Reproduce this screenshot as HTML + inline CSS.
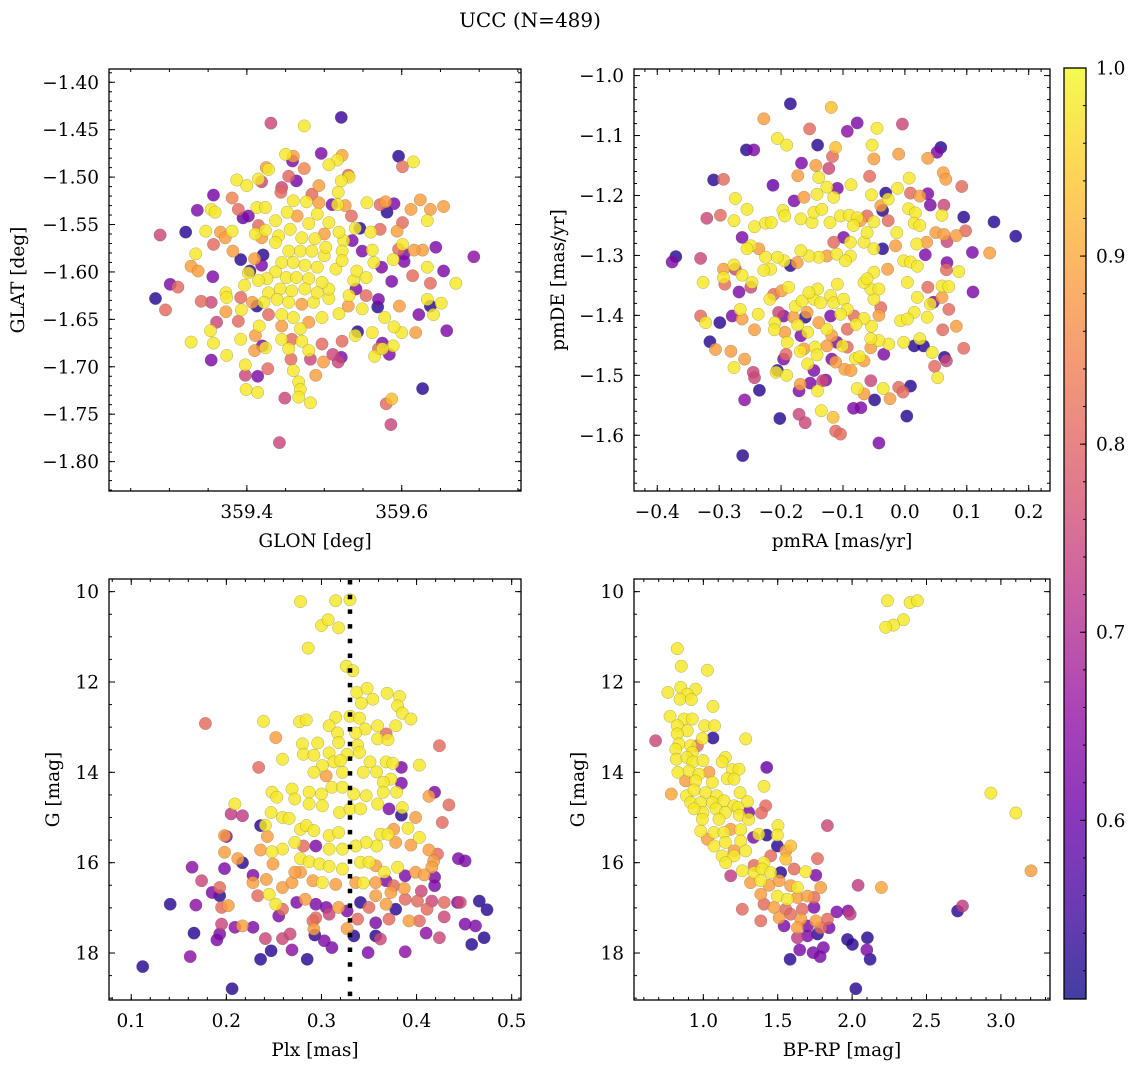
<!DOCTYPE html>
<html><head><meta charset="utf-8"><style>
html,body{margin:0;padding:0;background:#fff;}
svg{display:block;font-family:"DejaVu Serif","Liberation Serif",serif;}
</style></head><body>
<svg id="fig" width="1136" height="1067" viewBox="0 0 1136 1067" xmlns="http://www.w3.org/2000/svg">
<defs>
<linearGradient id="cbgrad" x1="0" y1="1" x2="0" y2="0">
<stop offset="0" stop-color="#0d0887"/><stop offset="0.1" stop-color="#41049d"/><stop offset="0.2" stop-color="#6a00a8"/><stop offset="0.3" stop-color="#8f0da4"/><stop offset="0.4" stop-color="#b12a90"/><stop offset="0.5" stop-color="#cc4778"/><stop offset="0.6" stop-color="#e16462"/><stop offset="0.7" stop-color="#f2844b"/><stop offset="0.8" stop-color="#fca636"/><stop offset="0.9" stop-color="#fcce25"/><stop offset="1" stop-color="#f0f921"/>
</linearGradient>
</defs>
<text x="530" y="27" font-size="20" text-anchor="middle">UCC (N=489)</text>
</svg>
<script>
// ---- data: [x, y, membership probability] ----
const tlPoints=[[359.431,-1.443,0.75],[359.474,-1.446,0.98],[359.522,-1.437,0.55],[359.496,-1.475,0.63],[359.450,-1.476,0.98],[359.459,-1.483,0.63],[359.460,-1.478,0.89],[359.523,-1.477,0.90],[359.517,-1.482,0.98],[359.506,-1.487,0.98],[359.596,-1.478,0.53],[359.615,-1.484,0.98],[359.601,-1.489,0.82],[359.428,-1.492,0.98],[359.425,-1.490,0.89],[359.474,-1.491,0.85],[359.454,-1.499,0.80],[359.464,-1.504,0.62],[359.387,-1.503,0.98],[359.400,-1.509,0.98],[359.415,-1.502,0.98],[359.419,-1.505,0.75],[359.531,-1.498,0.81],[359.532,-1.500,0.98],[359.522,-1.504,0.98],[359.493,-1.509,0.89],[359.445,-1.511,0.75],[359.444,-1.516,0.81],[359.518,-1.516,0.98],[359.357,-1.519,0.62],[359.381,-1.522,0.85],[359.336,-1.535,0.63],[359.354,-1.534,0.98],[359.359,-1.537,0.98],[359.389,-1.534,0.81],[359.395,-1.543,0.60],[359.402,-1.541,0.63],[359.413,-1.532,0.98],[359.424,-1.532,0.98],[359.460,-1.525,0.98],[359.477,-1.526,0.98],[359.493,-1.527,0.89],[359.484,-1.518,0.81],[359.510,-1.529,0.63],[359.517,-1.529,0.98],[359.527,-1.530,0.89],[359.535,-1.541,0.81],[359.555,-1.527,0.98],[359.572,-1.529,0.81],[359.579,-1.526,0.89],[359.590,-1.528,0.63],[359.581,-1.537,0.53],[359.612,-1.534,0.89],[359.624,-1.524,0.89],[359.637,-1.534,0.89],[359.633,-1.546,0.98],[359.654,-1.531,0.89],[359.601,-1.548,0.81],[359.594,-1.557,0.89],[359.288,-1.561,0.75],[359.321,-1.558,0.53],[359.347,-1.557,0.98],[359.366,-1.558,0.89],[359.372,-1.564,0.89],[359.381,-1.557,0.98],[359.357,-1.571,0.81],[359.382,-1.578,0.89],[359.334,-1.581,0.98],[359.328,-1.594,0.89],[359.337,-1.599,0.89],[359.356,-1.605,0.63],[359.392,-1.587,0.53],[359.410,-1.586,0.89],[359.421,-1.582,0.53],[359.419,-1.593,0.63],[359.404,-1.599,0.55],[359.402,-1.601,0.98],[359.301,-1.613,0.63],[359.311,-1.616,0.81],[359.282,-1.628,0.53],[359.295,-1.640,0.81],[359.341,-1.631,0.81],[359.354,-1.632,0.75],[359.373,-1.622,0.98],[359.374,-1.627,0.98],[359.392,-1.627,0.81],[359.373,-1.642,0.89],[359.397,-1.614,0.98],[359.407,-1.632,0.89],[359.413,-1.636,0.53],[359.393,-1.640,0.98],[359.389,-1.652,0.81],[359.361,-1.653,0.75],[359.353,-1.662,0.98],[359.328,-1.674,0.98],[359.357,-1.675,0.98],[359.354,-1.693,0.63],[359.374,-1.688,0.98],[359.392,-1.671,0.98],[359.411,-1.667,0.89],[359.416,-1.657,0.98],[359.410,-1.683,0.89],[359.424,-1.680,0.98],[359.420,-1.678,0.63],[359.398,-1.698,0.98],[359.398,-1.709,0.75],[359.414,-1.710,0.63],[359.427,-1.702,0.81],[359.399,-1.724,0.98],[359.414,-1.727,0.98],[359.449,-1.733,0.75],[359.442,-1.780,0.75],[359.460,-1.704,0.98],[359.467,-1.716,0.98],[359.469,-1.724,0.98],[359.467,-1.732,0.98],[359.482,-1.738,0.98],[359.489,-1.709,0.89],[359.457,-1.692,0.81],[359.482,-1.692,0.75],[359.499,-1.695,0.89],[359.518,-1.695,0.75],[359.522,-1.690,0.63],[359.511,-1.687,0.75],[359.497,-1.676,0.81],[359.523,-1.673,0.81],[359.543,-1.663,0.53],[359.540,-1.667,0.98],[359.562,-1.664,0.98],[359.575,-1.675,0.63],[359.584,-1.687,0.63],[359.589,-1.678,0.98],[359.565,-1.689,0.98],[359.575,-1.681,0.98],[359.570,-1.681,0.81],[359.618,-1.664,0.89],[359.600,-1.664,0.98],[359.590,-1.658,0.98],[359.627,-1.723,0.53],[359.587,-1.734,0.93],[359.580,-1.739,0.81],[359.586,-1.761,0.75],[359.622,-1.645,0.63],[359.637,-1.636,0.53],[359.641,-1.645,0.98],[359.651,-1.633,0.98],[359.633,-1.629,0.98],[359.658,-1.662,0.63],[359.597,-1.636,0.89],[359.578,-1.648,0.98],[359.569,-1.637,0.53],[359.570,-1.629,0.63],[359.554,-1.625,0.81],[359.670,-1.612,0.98],[359.654,-1.599,0.63],[359.637,-1.612,0.81],[359.633,-1.595,0.98],[359.614,-1.604,0.81],[359.693,-1.584,0.65],[359.644,-1.574,0.63],[359.627,-1.577,0.89],[359.616,-1.577,0.89],[359.603,-1.581,0.63],[359.603,-1.589,0.63],[359.589,-1.587,0.98],[359.596,-1.576,0.81],[359.601,-1.571,0.98],[359.587,-1.610,0.63],[359.574,-1.595,0.63],[359.564,-1.590,0.98],[359.562,-1.577,0.98],[359.549,-1.578,0.63],[359.546,-1.554,0.53],[359.540,-1.554,0.98],[359.560,-1.558,0.98],[359.572,-1.555,0.81],[359.536,-1.567,0.63],[359.525,-1.567,0.98],[359.519,-1.558,0.98],[359.538,-1.609,0.98],[359.542,-1.599,0.98],[359.554,-1.606,0.98],[359.541,-1.618,0.63],[359.532,-1.625,0.98],[359.549,-1.639,0.98],[359.531,-1.636,0.89],[359.519,-1.644,0.98],[359.497,-1.648,0.98],[359.480,-1.653,0.89],[359.486,-1.632,0.98],[359.506,-1.628,0.98],[359.506,-1.618,0.98],[359.515,-1.597,0.98],[359.500,-1.583,0.98],[359.500,-1.560,0.89],[359.506,-1.548,0.98],[359.480,-1.549,0.98],[359.491,-1.539,0.98],[359.465,-1.541,0.89],[359.452,-1.537,0.98],[359.437,-1.546,0.98],[359.441,-1.562,0.98],[359.456,-1.555,0.98],[359.471,-1.564,0.98],[359.488,-1.565,0.98],[359.454,-1.578,0.98],[359.469,-1.578,0.98],[359.484,-1.578,0.98],[359.445,-1.590,0.98],[359.460,-1.590,0.98],[359.475,-1.593,0.98],[359.491,-1.595,0.98],[359.437,-1.600,0.98],[359.451,-1.606,0.98],[359.464,-1.606,0.98],[359.480,-1.607,0.98],[359.497,-1.611,0.98],[359.426,-1.607,0.98],[359.415,-1.609,0.98],[359.428,-1.622,0.98],[359.443,-1.618,0.98],[359.458,-1.620,0.98],[359.475,-1.618,0.98],[359.491,-1.622,0.98],[359.422,-1.632,0.98],[359.439,-1.629,0.98],[359.454,-1.632,0.98],[359.471,-1.634,0.89],[359.445,-1.645,0.98],[359.428,-1.645,0.81],[359.460,-1.648,0.98],[359.445,-1.657,0.89],[359.469,-1.660,0.98],[359.445,-1.671,0.98],[359.458,-1.671,0.81],[359.471,-1.673,0.98],[359.480,-1.683,0.98],[359.454,-1.681,0.98],[359.437,-1.569,0.98],[359.419,-1.564,0.89],[359.411,-1.560,0.98],[359.424,-1.556,0.98],[359.415,-1.551,0.81],[359.523,-1.578,0.98],[359.523,-1.588,0.98],[359.502,-1.574,0.98]];
const trPoints=[[-0.185,-1.047,0.53],[-0.119,-1.053,0.93],[-0.228,-1.072,0.89],[-0.154,-1.089,0.81],[-0.077,-1.079,0.63],[-0.093,-1.093,0.65],[-0.004,-1.081,0.75],[-0.045,-1.088,0.98],[-0.206,-1.105,0.98],[-0.191,-1.116,0.98],[-0.141,-1.116,0.53],[-0.112,-1.120,0.93],[-0.117,-1.135,0.81],[-0.256,-1.124,0.53],[-0.244,-1.124,0.63],[-0.053,-1.116,0.98],[-0.050,-1.139,0.89],[-0.010,-1.131,0.89],[0.058,-1.120,0.53],[0.052,-1.128,0.63],[0.037,-1.138,0.89],[-0.167,-1.146,0.63],[-0.144,-1.150,0.89],[-0.123,-1.155,0.75],[-0.309,-1.174,0.53],[-0.293,-1.173,0.81],[-0.213,-1.183,0.60],[-0.173,-1.167,0.89],[-0.139,-1.170,0.98],[-0.087,-1.182,0.98],[-0.057,-1.168,0.81],[0.007,-1.171,0.98],[0.062,-1.162,0.89],[0.066,-1.173,0.89],[0.092,-1.185,0.81],[-0.109,-1.188,0.63],[-0.274,-1.205,0.98],[-0.126,-1.186,0.98],[-0.179,-1.209,0.63],[-0.163,-1.203,0.89],[-0.142,-1.198,0.98],[-0.115,-1.203,0.98],[-0.054,-1.199,0.98],[-0.031,-1.196,0.53],[-0.027,-1.206,0.98],[-0.012,-1.188,0.98],[0.009,-1.196,0.81],[0.024,-1.201,0.89],[0.037,-1.197,0.63],[0.041,-1.216,0.63],[0.063,-1.216,0.75],[0.060,-1.233,0.98],[0.095,-1.236,0.53],[0.144,-1.244,0.53],[0.179,-1.268,0.53],[-0.320,-1.238,0.75],[-0.298,-1.233,0.81],[-0.276,-1.242,0.98],[-0.255,-1.223,0.98],[-0.243,-1.252,0.98],[-0.225,-1.246,0.98],[-0.216,-1.245,0.98],[-0.197,-1.225,0.98],[-0.194,-1.234,0.98],[-0.168,-1.239,0.98],[-0.150,-1.245,0.98],[-0.147,-1.228,0.98],[-0.134,-1.223,0.98],[-0.121,-1.245,0.98],[-0.104,-1.234,0.98],[-0.090,-1.233,0.98],[-0.077,-1.237,0.98],[-0.061,-1.234,0.81],[-0.050,-1.244,0.98],[-0.039,-1.217,0.89],[-0.036,-1.225,0.53],[-0.027,-1.242,0.81],[-0.013,-1.262,0.98],[-0.015,-1.284,0.89],[0.006,-1.222,0.98],[0.017,-1.229,0.98],[0.015,-1.246,0.98],[0.024,-1.250,0.98],[0.050,-1.262,0.89],[0.063,-1.265,0.89],[0.083,-1.267,0.89],[0.098,-1.259,0.81],[0.068,-1.277,0.75],[0.109,-1.295,0.63],[0.137,-1.296,0.89],[0.110,-1.361,0.63],[0.033,-1.299,0.63],[0.035,-1.278,0.89],[0.019,-1.281,0.98],[-0.002,-1.309,0.98],[0.009,-1.311,0.98],[0.020,-1.318,0.98],[0.068,-1.312,0.63],[0.067,-1.324,0.81],[0.087,-1.327,0.98],[0.060,-1.351,0.98],[0.071,-1.352,0.98],[0.037,-1.353,0.81],[0.060,-1.370,0.89],[0.046,-1.378,0.63],[0.041,-1.381,0.98],[0.071,-1.390,0.81],[0.083,-1.418,0.89],[0.061,-1.424,0.81],[0.095,-1.455,0.81],[0.036,-1.403,0.98],[0.020,-1.370,0.98],[0.004,-1.345,0.98],[0.015,-1.395,0.98],[-0.007,-1.409,0.98],[0.004,-1.406,0.98],[0.024,-1.439,0.98],[0.030,-1.451,0.53],[0.015,-1.451,0.53],[-0.002,-1.445,0.98],[0.044,-1.462,0.98],[0.064,-1.470,0.53],[0.067,-1.476,0.75],[0.048,-1.485,0.81],[0.053,-1.504,0.98],[-0.026,-1.448,0.98],[-0.042,-1.442,0.98],[-0.055,-1.439,0.98],[-0.034,-1.465,0.63],[-0.055,-1.454,0.89],[-0.054,-1.418,0.98],[-0.066,-1.405,0.98],[-0.042,-1.400,0.89],[-0.039,-1.387,0.81],[-0.050,-1.373,0.98],[-0.055,-1.356,0.98],[-0.066,-1.345,0.98],[-0.042,-1.356,0.98],[-0.028,-1.323,0.89],[-0.050,-1.328,0.98],[-0.061,-1.339,0.98],[-0.036,-1.289,0.53],[-0.050,-1.289,0.98],[-0.066,-1.278,0.98],[-0.061,-1.262,0.98],[-0.083,-1.250,0.98],[-0.072,-1.242,0.89],[-0.099,-1.270,0.63],[-0.088,-1.278,0.98],[-0.115,-1.278,0.81],[-0.110,-1.298,0.98],[-0.088,-1.301,0.98],[-0.096,-1.309,0.98],[-0.126,-1.301,0.89],[-0.139,-1.303,0.98],[-0.155,-1.301,0.98],[-0.168,-1.292,0.98],[-0.174,-1.312,0.89],[-0.185,-1.317,0.53],[-0.195,-1.309,0.98],[-0.206,-1.303,0.98],[-0.217,-1.323,0.98],[-0.228,-1.325,0.98],[-0.225,-1.303,0.98],[-0.236,-1.289,0.89],[-0.249,-1.284,0.98],[-0.255,-1.289,0.98],[-0.263,-1.270,0.63],[-0.276,-1.316,0.98],[-0.293,-1.323,0.89],[-0.293,-1.337,0.98],[-0.291,-1.348,0.81],[-0.330,-1.305,0.75],[-0.326,-1.345,0.98],[-0.370,-1.302,0.53],[-0.376,-1.311,0.63],[-0.274,-1.323,0.75],[-0.263,-1.333,0.98],[-0.247,-1.345,0.98],[-0.249,-1.353,0.75],[-0.268,-1.361,0.63],[-0.266,-1.390,0.98],[-0.263,-1.406,0.89],[-0.279,-1.401,0.63],[-0.299,-1.412,0.53],[-0.330,-1.401,0.81],[-0.322,-1.412,0.98],[-0.315,-1.444,0.53],[-0.306,-1.457,0.89],[-0.281,-1.460,0.89],[-0.276,-1.487,0.98],[-0.259,-1.473,0.89],[-0.245,-1.495,0.75],[-0.243,-1.504,0.75],[-0.235,-1.525,0.53],[-0.259,-1.541,0.65],[-0.243,-1.424,0.89],[-0.237,-1.398,0.98],[-0.218,-1.373,0.98],[-0.212,-1.365,0.81],[-0.199,-1.359,0.89],[-0.188,-1.353,0.98],[-0.204,-1.395,0.75],[-0.196,-1.401,0.63],[-0.180,-1.403,0.89],[-0.210,-1.412,0.98],[-0.211,-1.424,0.98],[-0.190,-1.445,0.98],[-0.194,-1.428,0.89],[-0.173,-1.416,0.98],[-0.168,-1.434,0.63],[-0.157,-1.428,0.98],[-0.177,-1.385,0.98],[-0.166,-1.376,0.98],[-0.158,-1.395,0.89],[-0.161,-1.403,0.53],[-0.147,-1.373,0.98],[-0.141,-1.356,0.98],[-0.155,-1.362,0.98],[-0.136,-1.379,0.98],[-0.120,-1.367,0.98],[-0.109,-1.348,0.98],[-0.115,-1.379,0.98],[-0.099,-1.373,0.98],[-0.093,-1.390,0.98],[-0.082,-1.401,0.81],[-0.079,-1.415,0.98],[-0.093,-1.423,0.81],[-0.120,-1.401,0.63],[-0.104,-1.398,0.98],[-0.139,-1.412,0.89],[-0.126,-1.423,0.98],[-0.118,-1.434,0.89],[-0.110,-1.445,0.63],[-0.101,-1.451,0.98],[-0.145,-1.453,0.98],[-0.163,-1.456,0.89],[-0.169,-1.460,0.98],[-0.142,-1.466,0.98],[-0.126,-1.451,0.89],[-0.118,-1.473,0.63],[-0.112,-1.478,0.89],[-0.097,-1.490,0.89],[-0.087,-1.492,0.89],[-0.080,-1.472,0.98],[-0.073,-1.469,0.98],[-0.066,-1.476,0.89],[-0.093,-1.453,0.81],[-0.192,-1.465,0.81],[-0.196,-1.473,0.63],[-0.206,-1.492,0.53],[-0.208,-1.495,0.98],[-0.191,-1.500,0.98],[-0.157,-1.481,0.98],[-0.147,-1.492,0.63],[-0.133,-1.509,0.75],[-0.128,-1.508,0.63],[-0.169,-1.515,0.89],[-0.171,-1.526,0.63],[-0.153,-1.513,0.63],[-0.141,-1.526,0.98],[-0.202,-1.572,0.53],[-0.171,-1.565,0.75],[-0.161,-1.579,0.75],[-0.135,-1.559,0.98],[-0.116,-1.570,0.93],[-0.112,-1.593,0.81],[-0.104,-1.598,0.81],[-0.083,-1.555,0.63],[-0.071,-1.554,0.63],[-0.077,-1.522,0.98],[-0.066,-1.531,0.89],[-0.055,-1.509,0.75],[-0.035,-1.522,0.98],[-0.024,-1.539,0.89],[-0.010,-1.520,0.81],[-0.003,-1.528,0.81],[0.009,-1.518,0.53],[-0.049,-1.541,0.53],[0.003,-1.568,0.53],[-0.042,-1.613,0.63],[-0.262,-1.634,0.53]];
const blPoints=[[0.278,10.22,0.98],[0.315,10.20,0.98],[0.330,10.18,0.98],[0.300,10.75,0.98],[0.307,10.62,0.98],[0.318,10.80,0.98],[0.286,11.25,0.98],[0.326,11.65,0.98],[0.333,11.75,0.98],[0.178,12.92,0.81],[0.239,12.87,0.98],[0.277,12.88,0.98],[0.284,12.84,0.98],[0.252,13.23,0.89],[0.234,13.89,0.81],[0.259,13.71,0.98],[0.337,12.23,0.98],[0.348,12.14,0.98],[0.354,12.38,0.98],[0.342,12.47,0.98],[0.369,12.25,0.98],[0.382,12.32,0.98],[0.380,12.53,0.98],[0.385,12.69,0.98],[0.394,12.82,0.98],[0.378,12.97,0.98],[0.424,13.41,0.81],[0.403,13.84,0.98],[0.384,13.89,0.63],[0.384,14.24,0.63],[0.419,14.44,0.63],[0.413,14.53,0.89],[0.434,14.72,0.81],[0.427,15.11,0.81],[0.315,12.78,0.98],[0.330,12.76,0.98],[0.340,12.80,0.98],[0.346,13.04,0.98],[0.359,12.97,0.98],[0.308,12.97,0.98],[0.317,13.13,0.98],[0.336,13.13,0.98],[0.280,13.37,0.98],[0.296,13.35,0.98],[0.318,13.34,0.98],[0.338,13.40,0.98],[0.359,13.26,0.98],[0.370,13.28,0.98],[0.368,13.15,0.81],[0.281,13.60,0.98],[0.292,13.62,0.98],[0.308,13.57,0.98],[0.327,13.60,0.98],[0.340,13.56,0.98],[0.351,13.77,0.98],[0.368,13.77,0.98],[0.375,13.80,0.98],[0.313,13.77,0.98],[0.320,13.74,0.98],[0.301,13.85,0.98],[0.292,14.00,0.98],[0.305,14.08,0.89],[0.322,14.00,0.98],[0.344,14.00,0.98],[0.358,13.99,0.98],[0.373,14.15,0.98],[0.365,14.22,0.98],[0.269,14.37,0.98],[0.272,14.59,0.98],[0.248,14.44,0.98],[0.253,14.55,0.98],[0.287,14.44,0.98],[0.300,14.48,0.98],[0.311,14.33,0.98],[0.322,14.33,0.98],[0.334,14.48,0.98],[0.347,14.52,0.98],[0.365,14.44,0.98],[0.379,14.44,0.98],[0.209,14.70,0.98],[0.205,14.92,0.73],[0.217,14.96,0.73],[0.247,14.89,0.98],[0.259,15.00,0.98],[0.266,15.02,0.98],[0.287,14.70,0.98],[0.301,14.74,0.98],[0.319,14.89,0.98],[0.330,14.81,0.98],[0.341,14.81,0.98],[0.359,14.70,0.98],[0.371,14.81,0.63],[0.385,14.78,0.98],[0.384,14.95,0.53],[0.399,15.00,0.89],[0.391,15.24,0.98],[0.403,15.44,0.98],[0.394,15.61,0.89],[0.413,15.72,0.89],[0.422,15.81,0.81],[0.418,15.96,0.89],[0.416,16.10,0.89],[0.444,15.91,0.63],[0.451,15.96,0.63],[0.241,15.17,0.98],[0.236,15.18,0.53],[0.243,15.42,0.89],[0.278,15.26,0.98],[0.284,15.18,0.98],[0.292,15.29,0.98],[0.308,15.40,0.98],[0.318,15.33,0.98],[0.362,15.37,0.98],[0.370,15.37,0.98],[0.376,15.26,0.89],[0.378,15.55,0.89],[0.358,15.63,0.98],[0.347,15.55,0.98],[0.336,15.63,0.98],[0.322,15.70,0.98],[0.308,15.70,0.98],[0.294,15.63,0.63],[0.281,15.63,0.81],[0.272,15.55,0.98],[0.259,15.70,0.98],[0.248,15.76,0.98],[0.236,15.72,0.89],[0.198,15.77,0.89],[0.198,15.40,0.89],[0.200,15.42,0.63],[0.212,15.91,0.89],[0.217,16.00,0.53],[0.249,16.03,0.89],[0.278,15.91,0.98],[0.287,15.98,0.98],[0.298,16.03,0.98],[0.308,16.08,0.98],[0.322,16.14,0.98],[0.341,15.99,0.98],[0.350,15.99,0.98],[0.357,16.07,0.89],[0.366,16.21,0.98],[0.380,16.10,0.98],[0.388,16.29,0.63],[0.399,16.21,0.89],[0.408,16.27,0.89],[0.419,16.32,0.63],[0.419,16.51,0.63],[0.164,16.10,0.65],[0.174,16.40,0.75],[0.198,16.13,0.63],[0.228,16.28,0.63],[0.228,16.44,0.89],[0.242,16.37,0.89],[0.259,16.55,0.89],[0.269,16.44,0.89],[0.278,16.21,0.89],[0.272,16.21,0.89],[0.291,16.40,0.89],[0.301,16.44,0.98],[0.315,16.48,0.89],[0.336,16.44,0.89],[0.344,16.45,0.98],[0.357,16.44,0.89],[0.368,16.40,0.63],[0.376,16.51,0.81],[0.387,16.57,0.89],[0.405,16.63,0.75],[0.185,16.66,0.63],[0.193,16.73,0.53],[0.193,16.55,0.81],[0.141,16.92,0.53],[0.168,16.94,0.65],[0.195,16.99,0.81],[0.202,16.95,0.89],[0.233,16.73,0.81],[0.245,16.70,0.98],[0.252,16.92,0.98],[0.259,17.03,0.81],[0.274,16.88,0.63],[0.283,16.81,0.89],[0.294,16.92,0.63],[0.305,16.99,0.63],[0.318,16.99,0.89],[0.327,17.07,0.63],[0.341,16.88,0.53],[0.350,16.99,0.81],[0.357,16.73,0.89],[0.368,16.92,0.89],[0.373,16.66,0.89],[0.378,17.03,0.53],[0.388,16.81,0.81],[0.401,16.85,0.81],[0.411,17.03,0.81],[0.416,16.85,0.75],[0.429,16.88,0.81],[0.443,16.88,0.63],[0.446,16.88,0.75],[0.466,16.85,0.53],[0.474,17.04,0.53],[0.255,17.18,0.63],[0.294,17.22,0.81],[0.308,17.14,0.75],[0.338,17.25,0.81],[0.357,17.33,0.63],[0.371,17.25,0.81],[0.392,17.29,0.89],[0.403,17.29,0.81],[0.429,17.20,0.75],[0.451,17.36,0.63],[0.462,17.40,0.63],[0.195,17.36,0.75],[0.209,17.43,0.65],[0.217,17.40,0.89],[0.228,17.43,0.63],[0.291,17.29,0.81],[0.292,17.47,0.89],[0.327,17.46,0.89],[0.166,17.56,0.53],[0.193,17.58,0.63],[0.190,17.71,0.63],[0.241,17.68,0.75],[0.259,17.68,0.75],[0.267,17.58,0.75],[0.293,17.60,0.53],[0.334,17.62,0.53],[0.357,17.62,0.53],[0.362,17.69,0.75],[0.410,17.56,0.65],[0.424,17.66,0.75],[0.471,17.66,0.53],[0.458,17.81,0.53],[0.303,17.73,0.63],[0.311,17.88,0.63],[0.247,17.95,0.53],[0.269,17.93,0.65],[0.236,18.14,0.53],[0.285,18.14,0.53],[0.162,18.08,0.65],[0.112,18.30,0.53],[0.349,17.99,0.63],[0.388,17.97,0.65],[0.206,18.79,0.53]];
const brPoints=[[2.238,10.20,0.98],[2.390,10.24,0.98],[2.439,10.20,0.98],[2.345,10.62,0.98],[2.278,10.74,0.98],[2.226,10.79,0.98],[0.825,11.26,0.98],[0.852,11.65,0.98],[1.027,11.74,0.98],[0.762,12.23,0.98],[0.848,12.12,0.98],[0.948,12.16,0.98],[0.892,12.27,0.98],[0.843,12.38,0.98],[0.919,12.39,0.98],[1.065,12.54,0.98],[0.776,12.76,0.98],[0.870,12.82,0.98],[0.926,12.82,0.98],[0.825,12.97,0.98],[1.009,12.97,0.98],[1.076,12.97,0.98],[0.892,13.08,0.98],[0.825,13.15,0.98],[0.993,13.25,0.98],[1.065,13.24,0.53],[1.285,13.26,0.98],[0.679,13.30,0.75],[0.836,13.37,0.98],[0.915,13.41,0.98],[0.814,13.49,0.98],[0.926,13.56,0.98],[0.960,13.41,0.81],[0.818,13.71,0.98],[0.890,13.67,0.98],[0.930,13.77,0.98],[0.998,13.74,0.98],[1.148,13.67,0.98],[1.126,13.77,0.98],[1.426,13.89,0.60],[0.829,14.00,0.98],[0.904,13.97,0.98],[0.971,14.04,0.98],[1.038,14.00,0.89],[1.195,13.94,0.98],[1.240,13.93,0.98],[1.161,14.14,0.98],[1.206,14.15,0.98],[0.881,14.19,0.89],[0.948,14.19,0.98],[1.060,14.22,0.98],[1.408,14.31,0.98],[0.785,14.48,0.90],[0.886,14.52,0.98],[0.937,14.39,0.98],[1.016,14.45,0.98],[1.090,14.52,0.98],[1.247,14.45,0.98],[1.296,14.65,0.98],[0.915,14.67,0.98],[0.982,14.67,0.98],[1.060,14.67,0.98],[1.139,14.63,0.98],[1.206,14.74,0.98],[1.419,14.74,0.81],[1.233,14.78,0.98],[1.085,14.81,0.98],[0.998,14.89,0.98],[0.937,14.81,0.98],[1.148,14.89,0.98],[1.305,14.89,0.63],[1.390,14.90,0.81],[1.242,14.95,0.98],[0.993,15.04,0.98],[1.105,15.04,0.98],[1.305,15.04,0.98],[1.834,15.18,0.75],[1.502,15.18,0.98],[0.982,15.30,0.98],[1.072,15.33,0.98],[1.139,15.33,0.98],[1.251,15.27,0.98],[1.184,15.26,0.89],[1.337,15.44,0.63],[1.426,15.39,0.53],[1.498,15.39,0.98],[1.372,15.37,0.98],[1.027,15.48,0.89],[1.072,15.63,0.98],[1.148,15.55,0.98],[1.251,15.52,0.98],[1.206,15.74,0.89],[1.285,15.74,0.98],[1.126,15.85,0.98],[1.206,15.85,0.98],[1.498,15.63,0.53],[1.587,15.63,0.93],[1.554,15.74,0.89],[1.453,15.85,0.81],[1.554,15.92,0.93],[1.767,15.91,0.81],[1.408,16.00,0.98],[1.341,16.06,0.81],[1.150,16.00,0.98],[1.262,16.18,0.98],[1.184,16.29,0.73],[1.341,16.22,0.98],[1.395,16.14,0.98],[1.453,16.22,0.98],[1.520,16.22,0.53],[1.610,16.14,0.81],[1.688,16.20,0.98],[1.756,16.28,0.63],[1.318,16.44,0.89],[1.386,16.40,0.98],[1.442,16.50,0.89],[1.509,16.40,0.89],[1.632,16.55,0.98],[1.587,16.51,0.89],[1.789,16.55,0.89],[2.040,16.50,0.73],[2.197,16.55,0.90],[1.386,16.70,0.89],[1.498,16.74,0.98],[1.565,16.81,0.98],[1.632,16.77,0.89],[1.744,16.77,0.81],[1.700,16.74,0.89],[1.408,16.92,0.81],[1.475,16.99,0.89],[1.554,17.03,0.81],[1.744,16.99,0.63],[1.666,17.03,0.81],[1.262,17.03,0.81],[1.386,17.29,0.81],[1.509,17.22,0.89],[1.587,17.14,0.81],[1.655,17.25,0.89],[1.756,17.29,0.89],[1.834,17.25,0.81],[1.897,17.09,0.63],[1.973,17.07,0.63],[1.987,17.14,0.73],[2.709,17.07,0.53],[2.742,16.96,0.73],[2.933,14.46,0.98],[3.101,14.90,0.98],[3.202,16.18,0.89],[1.543,17.40,0.63],[1.632,17.44,0.89],[1.700,17.40,0.63],[1.789,17.44,0.81],[1.845,17.44,0.63],[1.632,17.66,0.73],[1.700,17.62,0.63],[1.767,17.58,0.53],[1.969,17.70,0.53],[2.002,17.81,0.53],[2.103,17.66,0.53],[2.099,17.93,0.63],[2.121,18.14,0.53],[1.648,17.93,0.63],[1.738,17.99,0.63],[1.807,17.88,0.63],[1.785,18.08,0.63],[1.583,18.14,0.53],[2.025,18.79,0.53]];
const cbTicks=[0.6,0.7,0.8,0.9,1.0];
const cbRange=[0.505,1.0];

const NS='http://www.w3.org/2000/svg';
const svg=document.getElementById('fig');
function mk(tag,attrs,parent){const e=document.createElementNS(NS,tag);for(const k in attrs)e.setAttribute(k,attrs[k]);(parent||svg).appendChild(e);return e;}

const stops=[[13,8,135],[65,4,157],[106,0,168],[143,13,164],[177,42,144],[204,71,120],[225,100,98],[242,132,75],[252,166,54],[252,206,37],[240,249,33]];
function plasma(p){let t=(p-cbRange[0])/(cbRange[1]-cbRange[0]);t=Math.max(0,Math.min(1,t))*10;const i=Math.min(9,Math.floor(t)),f=t-i;const a=stops[i],b=stops[i+1];return 'rgb('+a.map((v,k)=>Math.round(v+(b[k]-v)*f)).join(',')+')';}
function fmt(v,d){const s=Math.abs(v).toFixed(d);return (v<-1e-9?'\u2212':'')+s;}
const FS=18.5;

function panel(cfg){
  const {name,L,T,W,H,x0,x1,y0,y1}=cfg;
  const sx=v=>L+(v-x0)/(x1-x0)*W;
  const sy=v=>T+(v-y0)/(y1-y0)*H;
  const g=mk('g',{});
  
  
  const clipId=name+'-clip';
  const cp=mk('clipPath',{id:clipId},g);mk('rect',{x:L,y:T,width:W,height:H},cp);
  const marks=mk('g',{'clip-path':'url(#'+clipId+')'},g);
  
  
  const pts=cfg.points.slice().sort((a,b)=>a[2]-b[2]);
  for(const p of pts){
    const c=mk('circle',{cx:sx(p[0]).toFixed(1),cy:sy(p[1]).toFixed(1),r:6.2,fill:plasma(p[2]),'fill-opacity':0.82,stroke:'#555','stroke-opacity':0.45,'stroke-width':0.5},marks);
    
    
  }
  if(cfg.vline!==undefined){
    const l=mk('line',{x1:sx(cfg.vline),x2:sx(cfg.vline),y1:T+1,y2:T+H,stroke:'#000','stroke-width':4.5,'stroke-dasharray':'4.5 10.2'},marks);
    
    
  }
  const tk=mk('g',{stroke:'#000','stroke-width':1},g);
  
  
  const eps=1e-9;
  function range(a,b,s){const out=[];const lo=Math.min(a,b),hi=Math.max(a,b);for(let v=Math.ceil(lo/s-eps)*s;v<=hi+eps;v+=s)out.push(Math.round(v/s)*s);return out;}
  for(const v of range(x0,x1,cfg.xMinor)){const x=sx(v);mk('line',{x1:x,x2:x,y1:T+H,y2:T+H-3},tk);mk('line',{x1:x,x2:x,y1:T,y2:T+3},tk);}
  for(const v of range(y0,y1,cfg.yMinor)){const y=sy(v);mk('line',{x1:L,x2:L+3,y1:y,y2:y},tk);mk('line',{x1:L+W,x2:L+W-3,y1:y,y2:y},tk);}
  for(const v of range(x0,x1,cfg.xMajor)){const x=sx(v);if(x<L-0.5||x>L+W+0.5)continue;mk('line',{x1:x,x2:x,y1:T+H,y2:T+H-6},tk);mk('line',{x1:x,x2:x,y1:T,y2:T+6},tk);
    const t=mk('text',{x:x,y:T+H+27,'font-size':FS,'text-anchor':'middle',fill:'#000'},g);t.textContent=cfg.xfmt(v);
    
    }
  for(const v of range(y0,y1,cfg.yMajor)){const y=sy(v);if(y<T-0.5||y>T+H+0.5)continue;mk('line',{x1:L,x2:L+6,y1:y,y2:y},tk);mk('line',{x1:L+W,x2:L+W-6,y1:y,y2:y},tk);
    const t=mk('text',{x:L-10,y:y+6.5,'font-size':FS,'text-anchor':'end',fill:'#000'},g);t.textContent=cfg.yfmt(v);
    
    }
  const fr=mk('rect',{x:L,y:T,width:W,height:H,fill:'none',stroke:'#000','stroke-width':1.3},g);
  
  
  const xt=mk('text',{x:L+W/2,y:T+H+56,'font-size':FS,'text-anchor':'middle'},g);xt.textContent=cfg.xlabel;
  
  
  const yt=mk('text',{x:cfg.ylx,y:T+H/2,'font-size':FS,'text-anchor':'middle',transform:'rotate(-90 '+cfg.ylx+' '+(T+H/2)+')'},g);yt.textContent=cfg.ylabel;
  
  
}

panel({name:'glon-glat',points:tlPoints,L:109,T:69,W:412,H:422,x0:359.222,x1:359.754,y0:-1.386,y1:-1.831,xMajor:0.2,xMinor:0.05,yMajor:0.05,yMinor:0.01,xfmt:v=>v.toFixed(1),yfmt:v=>fmt(v,2),xlabel:'GLON [deg]',ylabel:'GLAT [deg]',ylx:24});
panel({name:'pmra-pmde',points:trPoints,L:634,T:69,W:416,H:422,x0:-0.4376,x1:0.2344,y0:-0.989,y1:-1.693,xMajor:0.1,xMinor:0.02,yMajor:0.1,yMinor:0.02,xfmt:v=>fmt(v,1),yfmt:v=>fmt(v,1),xlabel:'pmRA [mas/yr]',ylabel:'pmDE [mas/yr]',ylx:564});
panel({name:'plx-g',points:blPoints,L:109,T:579,W:412,H:421,x0:0.0766,x1:0.5098,y0:9.72,y1:19.04,xMajor:0.1,xMinor:0.02,yMajor:2,yMinor:0.5,xfmt:v=>v.toFixed(1),yfmt:v=>v.toFixed(0),xlabel:'Plx [mas]',ylabel:'G [mag]',ylx:59,vline:0.33});
panel({name:'color-g',points:brPoints,L:634,T:579,W:416,H:421,x0:0.534,x1:3.33,y0:9.72,y1:19.04,xMajor:0.5,xMinor:0.1,yMajor:2,yMinor:0.5,xfmt:v=>v.toFixed(1),yfmt:v=>v.toFixed(0),xlabel:'BP-RP [mag]',ylabel:'G [mag]',ylx:584});

(function(){
  const L=1064,T=68,W=22,B=999;
  const g=mk('g',{});
  
  
  const r=mk('rect',{x:L,y:T,width:W,height:B-T,fill:'url(#cbgrad)','fill-opacity':0.78},g);
  
  
  const cy=v=>B-(v-cbRange[0])/(cbRange[1]-cbRange[0])*(B-T);
  for(let v=0.52;v<=1.0001;v+=0.02){const y=cy(v);mk('line',{x1:L+W,x2:L+W-3,y1:y,y2:y,stroke:'#000'},g);}
  for(const v of cbTicks){const y=cy(v);mk('line',{x1:L+W,x2:L+W-6,y1:y,y2:y,stroke:'#000'},g);
    const t=mk('text',{x:L+W+10,y:y+6.5,'font-size':FS},g);t.textContent=v.toFixed(1);
    
    }
  mk('rect',{x:L,y:T,width:W,height:B-T,fill:'none',stroke:'#000','stroke-width':1.3},g);
})();
</script>
</body></html>
